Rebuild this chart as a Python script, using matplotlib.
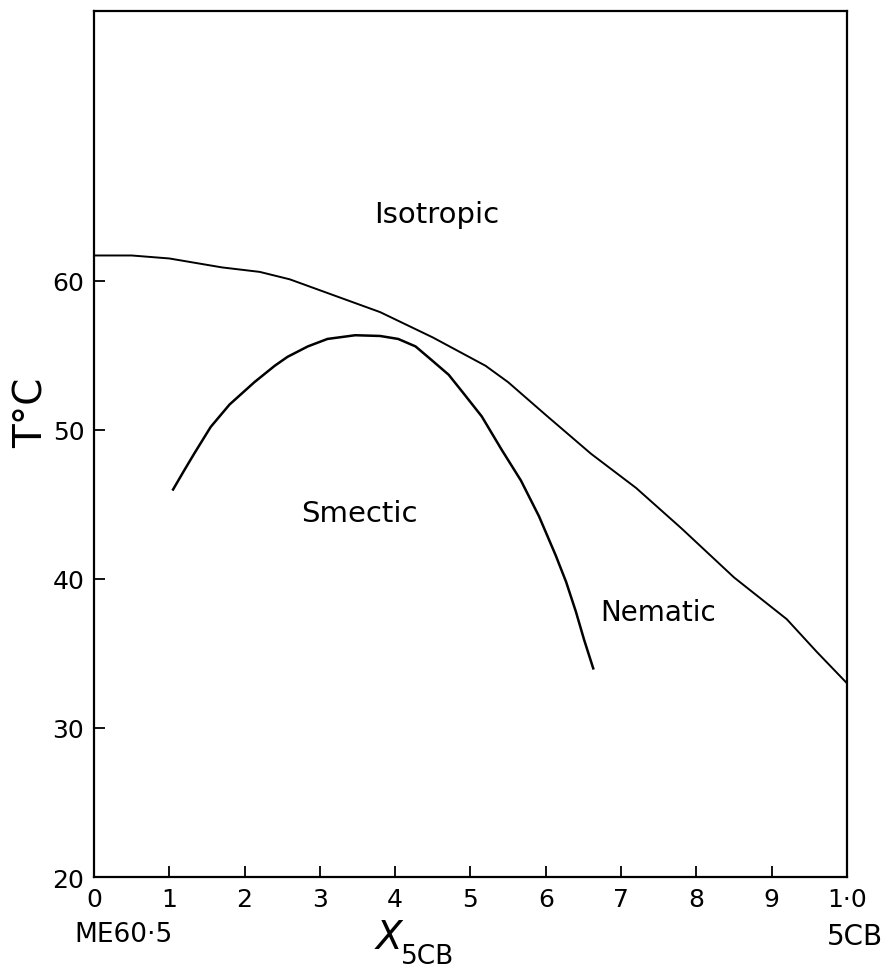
import numpy as np
from matplotlib import pyplot as plt

# isotropic -> nematic/smectic boundary
x_upper = [0.0, 0.05, 0.10, 0.17, 0.22, 0.26, 0.32, 0.38, 0.45, 0.52, 0.55, 0.60,
           0.66, 0.72, 0.78, 0.85, 0.92, 0.96, 1.0]
t_upper = [61.7, 61.7, 61.5, 60.9, 60.6, 60.1, 59.0, 57.9, 56.2, 54.3, 53.2, 51.0,
           48.4, 46.1, 43.4, 40.1, 37.3, 35.1, 33.0]

# smectic dome
x_smectic = [0.105, 0.12, 0.133, 0.155, 0.18, 0.213, 0.24, 0.257, 0.284, 0.31,
             0.347, 0.38, 0.404, 0.427, 0.448, 0.471, 0.49, 0.515, 0.541,
             0.567, 0.591, 0.613, 0.627, 0.64, 0.651, 0.663]
t_smectic = [46.0, 47.3, 48.4, 50.2, 51.7, 53.2, 54.3, 54.9, 55.6, 56.1,
             56.35, 56.3, 56.1, 55.6, 54.7, 53.7, 52.5, 50.9, 48.7,
             46.6, 44.2, 41.6, 39.8, 37.8, 35.9, 34.0]

x_ticks = [0.0, 0.1, 0.2, 0.3, 0.4, 0.5, 0.6, 0.7, 0.8, 0.9, 1.0]
x_ticklabels = ['0', '1', '2', '3', '4', '5', '6', '7', '8', '9', '1·0']
y_ticks = [20, 30, 40, 50, 60]


def main():
    fig = plt.figure(figsize=(8.91, 9.78), dpi=100)
    ax = fig.add_axes([0.1055, 0.1022, 0.8451, 0.8855])

    ax.plot(x_upper, t_upper, color='black', lw=1.4, solid_joinstyle='round')
    ax.plot(x_smectic, t_smectic, color='black', lw=1.8, solid_joinstyle='round')

    ax.set_xlim(0, 1.0)
    ax.set_ylim(20, 78.1)
    ax.set_xticks(x_ticks)
    ax.set_xticklabels(x_ticklabels)
    ax.set_yticks(y_ticks)
    ax.tick_params(direction='in', length=8, width=1.3, labelsize=18, pad=7)
    for s in ax.spines.values():
        s.set_linewidth(1.6)

    # region labels
    ax.text(0.455, 64.5, 'Isotropic', fontsize=21, ha='center', va='center')
    ax.text(0.353, 44.4, 'Smectic', fontsize=21, ha='center', va='center')
    ax.text(0.749, 37.8, 'Nematic', fontsize=20, ha='center', va='center')

    # axis labels
    fig.text(0.036, 0.578, 'T°C', fontsize=28, rotation=90, ha='center', va='center')
    fig.text(0.139, 0.044, 'ME60·5', fontsize=19, ha='center', va='center')
    fig.text(0.96, 0.042, '5CB', fontsize=20, ha='center', va='center')
    fig.text(0.437, 0.041, 'X', fontsize=28, style='italic', ha='center', va='center')
    fig.text(0.48, 0.021, '5CB', fontsize=19, ha='center', va='center')

    plt.savefig('out.png', dpi=100)


if __name__ == "__main__":
    main()
